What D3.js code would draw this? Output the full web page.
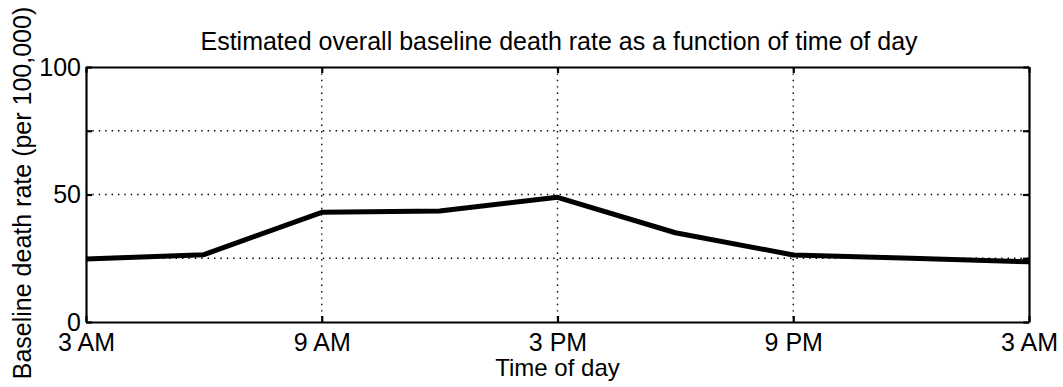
<!DOCTYPE html>
<html><head><meta charset="utf-8">
<script src="https://cdn.jsdelivr.net/npm/d3@7"></script>
<style>body{margin:0;background:#fff}svg{display:block}text{font-family:"Liberation Sans",Arial,Helvetica,sans-serif;fill:#000}</style>
</head><body>
<script>
const hours = [0, 3, 6, 9, 12, 15, 18, 21, 24];
const rates = [24.7, 26.4, 43.0, 43.5, 48.9, 35.0, 26.3, 25.0, 23.6];
const xTickHours = [0, 6, 12, 18, 24];
const xTickLabels = ["3 AM", "9 AM", "3 PM", "9 PM", "3 AM"];
const yTicks = [0, 50, 100];
const yGrid = [25, 50, 75];
const title = "Estimated overall baseline death rate as a function of time of day";
const xTitle = "Time of day";
const yTitle = "Baseline death rate (per 100,000)";

const W = 1063, H = 387;
const m = {l: 86, r: 1029, t: 67, b: 322};
const svg = d3.select("body").append("svg").attr("width", W).attr("height", H);
const x = d3.scaleLinear().domain([0, 24]).range([m.l, m.r]);
const y = d3.scaleLinear().domain([0, 100]).range([m.b, m.t]);

const g = svg.append("g");
g.selectAll(".hg").data(yGrid).join("line")
  .attr("x1", m.l).attr("x2", m.r).attr("y1", d => y(d)).attr("y2", d => y(d))
  .attr("stroke", "#000").attr("stroke-width", 1.4).attr("stroke-dasharray", "1.4,5");
g.selectAll(".vg").data(xTickHours.slice(1, -1)).join("line")
  .attr("x1", d => x(d)).attr("x2", d => x(d)).attr("y1", m.t).attr("y2", m.b)
  .attr("stroke", "#000").attr("stroke-width", 1.4).attr("stroke-dasharray", "1.4,5");

const xb = d3.axisBottom(x).tickValues(xTickHours).tickFormat((d, i) => xTickLabels[i]).tickSizeInner(-6).tickSizeOuter(0).tickPadding(11);
const xt = d3.axisTop(x).tickValues(xTickHours).tickFormat("").tickSizeInner(-6).tickSizeOuter(0);
const yl = d3.axisLeft(y).tickValues([0, 25, 50, 75, 100]).tickFormat(d => yTicks.includes(d) ? d : "").tickSizeInner(-6).tickSizeOuter(0).tickPadding(5);
const yr = d3.axisRight(y).tickValues([0, 25, 50, 75, 100]).tickFormat("").tickSizeInner(-6).tickSizeOuter(0);
function style(sel){
  sel.selectAll("path").attr("stroke", "#000").attr("stroke-width", 2.2);
  sel.selectAll("line").attr("stroke", "#000").attr("stroke-width", 2.2);
  sel.selectAll("text").attr("font-size", 25).attr("font-family", '"Liberation Sans",Arial,sans-serif').attr("fill", "#000");
}
svg.append("g").attr("transform", `translate(0,${m.b})`).call(xb).call(style);
svg.append("g").attr("transform", `translate(0,${m.t})`).call(xt).call(style);
svg.append("g").attr("transform", `translate(${m.l},0)`).call(yl).call(style);
svg.append("g").attr("transform", `translate(${m.r},0)`).call(yr).call(style);

svg.append("path").datum(hours.map((h, i) => [h, rates[i]]))
  .attr("fill", "none").attr("stroke", "#000").attr("stroke-width", 5).attr("stroke-linejoin", "round")
  .attr("d", d3.line().x(d => x(d[0])).y(d => y(d[1])));

svg.append("text").attr("x", 559).attr("y", 50).attr("text-anchor", "middle").attr("font-size", 25).text(title);
svg.append("text").attr("x", (m.l + m.r) / 2).attr("y", 376).attr("text-anchor", "middle").attr("font-size", 24).text(xTitle);
svg.append("text").attr("transform", `translate(31,${193}) rotate(-90)`).attr("text-anchor", "middle").attr("font-size", 25).text(yTitle);
</script>
</body></html>
